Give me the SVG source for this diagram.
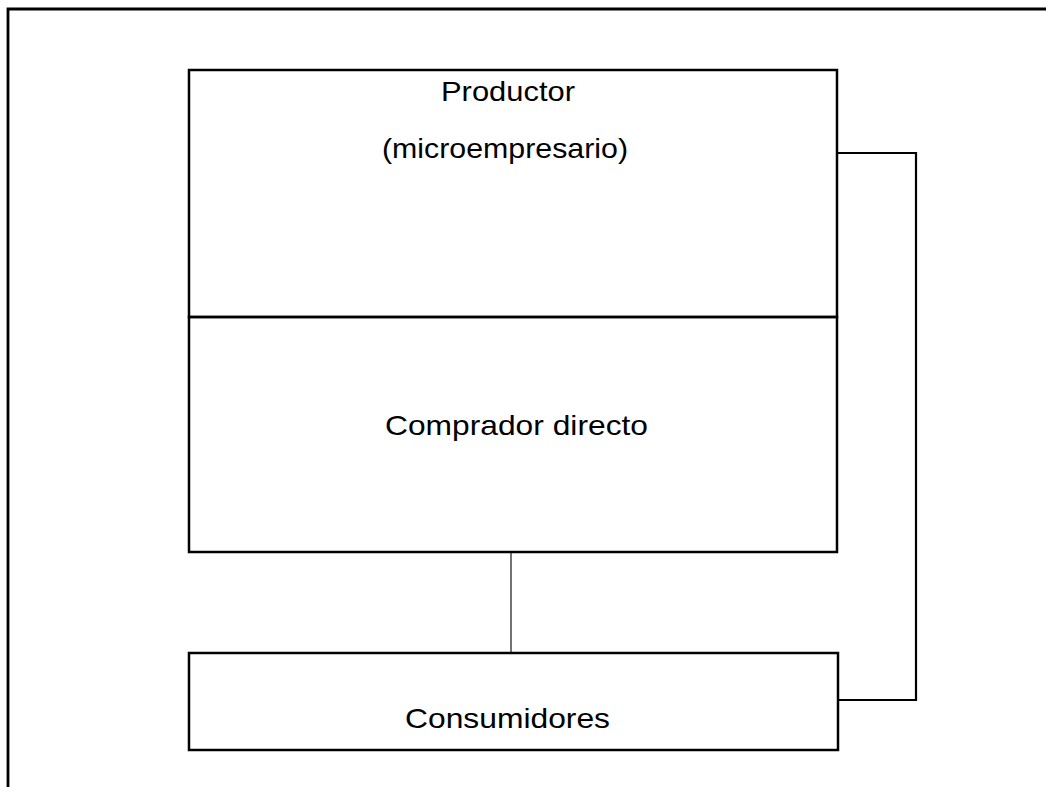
<svg xmlns="http://www.w3.org/2000/svg" width="1046" height="787" viewBox="0 0 1046 787">
<style>
.box{fill:none;stroke:#000;stroke-width:2.5}
.frame{fill:none;stroke:#000;stroke-width:2.8}
.lbl{font-family:"Liberation Sans",Arial,sans-serif;font-size:28px;fill:#000}
.conn{fill:none;stroke:#000;stroke-width:2.2}
.thin{fill:none;stroke:#000;stroke-width:1.1}
</style>
<rect width="1046" height="787" fill="#fff"/>
<path class="frame" d="M1046,9 H8 V787"/>
<g id="productor">
<rect class="box" x="189" y="70" width="648" height="247"/>
<text class="lbl" x="441" y="101" textLength="134" lengthAdjust="spacingAndGlyphs">Productor</text>
<text class="lbl" x="382" y="158" textLength="246" lengthAdjust="spacingAndGlyphs">(microempresario)</text>
</g>
<g id="comprador">
<rect class="box" x="189" y="317" width="648" height="235"/>
<text class="lbl" x="385" y="435" textLength="263" lengthAdjust="spacingAndGlyphs">Comprador directo</text>
</g>
<g id="consumidores">
<rect class="box" x="189" y="653" width="649" height="97"/>
<text class="lbl" x="405" y="728" textLength="205" lengthAdjust="spacingAndGlyphs">Consumidores</text>
</g>
<g id="connectors">
<path class="thin" d="M511,553 V652"/>
<path class="conn" d="M837,153 H916 V700 H839"/>
</g>
</svg>
